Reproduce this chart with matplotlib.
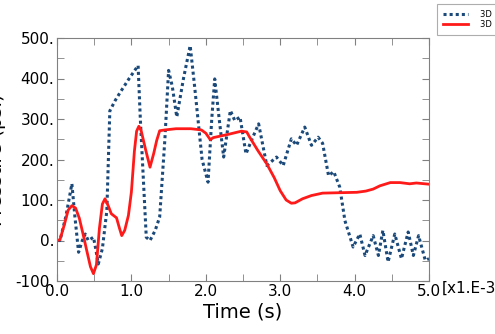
import numpy as np
import matplotlib
matplotlib.use('Agg')
from matplotlib import pyplot as plt
from matplotlib.ticker import MultipleLocator, FuncFormatter

# dotted series (time in ms, pressure in psi)
t_raw = [0.0, 0.04, 0.12, 0.2, 0.24, 0.29, 0.34, 0.38, 0.42, 0.49, 0.52, 0.555, 0.61,
         0.67, 0.71, 0.78, 0.85, 0.97, 1.09, 1.12, 1.2, 1.25, 1.32, 1.38, 1.45, 1.50,
         1.55, 1.61, 1.70, 1.79, 1.85, 1.95, 2.03, 2.08, 2.12, 2.18, 2.24, 2.33, 2.39,
         2.46, 2.54, 2.62, 2.71, 2.82, 2.95, 3.04, 3.15, 3.22, 3.33, 3.42, 3.51, 3.57,
         3.65, 3.72, 3.80, 3.87, 3.98, 4.07, 4.14, 4.25, 4.32, 4.38, 4.45, 4.54, 4.63,
         4.72, 4.79, 4.86, 4.95, 5.0]
p_raw = [0, 0, 60, 140, 60, -29, 0, 16, 0, 8, -20, -58, -20,
         74, 320, 345, 366, 400, 432, 300, 8, 0, 25, 58, 250, 420,
         380, 305, 400, 481, 380, 200, 144, 300, 399, 300, 206, 321, 296,
         305, 214, 250, 288, 185, 206, 185, 251, 235, 280, 235, 255, 240,
         160, 170, 132, 49, -16, 16, -37, 12, -37, 25, -53, 16, -45,
         21, -37, 12, -49, -45]

# smooth series
t_sm = [0.0, 0.04, 0.1, 0.15, 0.2, 0.25, 0.3, 0.35, 0.4, 0.45, 0.49, 0.53, 0.57, 0.61,
        0.645, 0.69, 0.73, 0.80, 0.84, 0.87, 0.91, 0.96, 1.0, 1.04, 1.07, 1.10, 1.13,
        1.19, 1.25, 1.30, 1.34, 1.38, 1.45, 1.6, 1.8, 1.94, 2.0, 2.06, 2.1, 2.3,
        2.48, 2.55, 2.59, 2.7, 2.82, 2.92, 3.0, 3.08, 3.15, 3.2, 3.3, 3.42, 3.57, 3.8,
        4.03, 4.15, 4.25, 4.34, 4.48, 4.61, 4.74, 4.83, 5.0]
p_sm = [0, 2, 40, 75, 86, 80, 55, 16, -25, -65, -82, -60, 30, 90,
        103, 85, 66, 56, 30, 12, 25, 62, 120, 220, 270, 282, 272,
        225, 181, 215, 247, 271, 273, 276, 276, 273, 265, 249, 254, 262,
        270, 268, 255, 222, 189, 155, 123, 100, 92, 93, 103, 111, 117, 118,
        119, 122, 127, 135, 143, 143, 140, 142, 139]

fig = plt.figure(figsize=(4.95, 3.34), dpi=100)
ax = fig.add_axes([57/495, 53/334, 372/495, 243/334])

ax.plot(t_raw, p_raw, color='#1b4a7a', linestyle=(0, (1, 1)), linewidth=2.2,
        label='3D Pressure')
ax.plot(t_sm, p_sm, color='#ff1a1a', linewidth=2, label='3D Smoothed')

ax.set_xlim(0, 5.0)
ax.set_ylim(-100, 500)
ax.xaxis.set_major_locator(MultipleLocator(1.0))
ax.xaxis.set_minor_locator(MultipleLocator(0.5))
ax.yaxis.set_major_locator(MultipleLocator(100))
ax.yaxis.set_minor_locator(MultipleLocator(50))
ax.xaxis.set_major_formatter(FuncFormatter(lambda v, pos: f'{v:.1f}'))
ax.yaxis.set_major_formatter(FuncFormatter(lambda v, pos: f'{v:.0f}.'))
ax.tick_params(which='both', direction='in', top=True, right=True, color='#808080',
               labelsize=11, pad=2)
ax.tick_params(which='major', length=5)
ax.tick_params(which='minor', length=5)
for s in ax.spines.values():
    s.set_color('#808080')

ax.set_xlabel('Time (s)', fontsize=14, labelpad=3)
fig.text(-3/495, 1 - 160/334, 'Pressure (psi)', rotation=90, fontsize=14,
         ha='center', va='center')
fig.text(442/495, 1 - 288/334, '[x1.E-3]', fontsize=11, ha='left', va='center')

leg = fig.legend(loc='upper left', bbox_to_anchor=(437/495, 1 - 4/334), fontsize=6,
                 frameon=True, fancybox=False, edgecolor='#999999', handlelength=3,
                 handletextpad=1.4, borderpad=0.7, labelspacing=0.1,
                 borderaxespad=0)
leg.get_frame().set_linewidth(0.8)

plt.savefig('out.png', dpi=100)
